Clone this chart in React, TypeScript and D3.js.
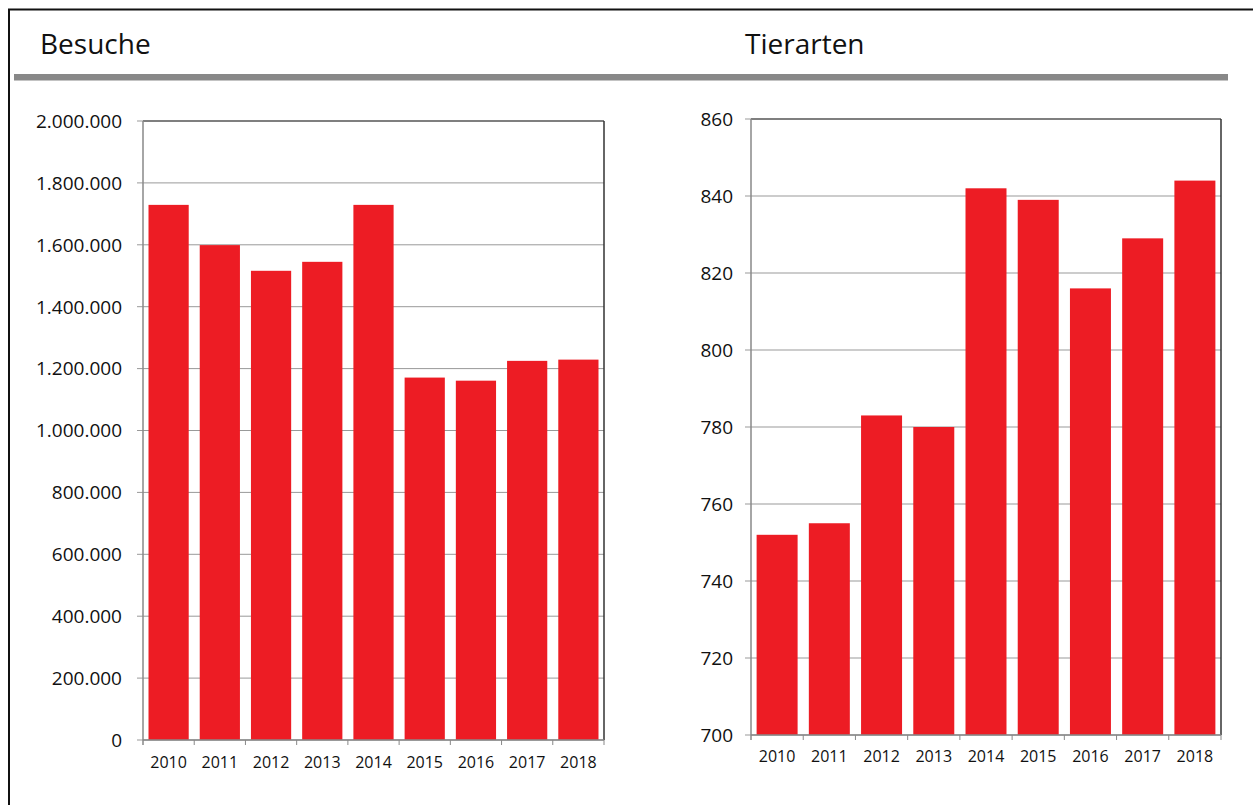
import React from "react";
import * as d3 from "d3";

const years = ["2010", "2011", "2012", "2013", "2014", "2015", "2016", "2017", "2018"];
const besuche = [1729000, 1599000, 1516000, 1545000, 1729000, 1171000, 1161000, 1225000, 1229000];
const tierarten = [752, 755, 783, 780, 842, 839, 816, 829, 844];
const besucheTicks = [0, 200000, 400000, 600000, 800000, 1000000, 1200000, 1400000, 1600000, 1800000, 2000000];
const tierTicks = [700, 720, 740, 760, 780, 800, 820, 840, 860];

const FONT = "'Open Sans', sans-serif";
const RED = "#ed1c24";

type PanelProps = {
  x0: number; x1: number; y0: number; y1: number;
  values: number[]; ticks: number[]; domain: [number, number];
  fmt: (v: number) => string; xLabelY: number; labelOff: number;
};

function Panel({ x0, x1, y0, y1, values, ticks, domain, fmt, xLabelY, labelOff }: PanelProps) {
  const x = d3.scaleBand<string>().domain(years).range([x0, x1]).paddingInner(0.215).paddingOuter(0.1075);
  const xb = d3.scaleBand<string>().domain(years).range([x0, x1]);
  const y = d3.scaleLinear().domain(domain).range([y1, y0]);
  return (
    <g>
      {ticks.map((t) => (
        <g key={t}>
          <line x1={x0 - 6} x2={x1} y1={y(t)} y2={y(t)} stroke="#999" strokeWidth={1} />
          <text x={x0 - labelOff} y={y(t)} dy="0.36em" textAnchor="end" fontFamily={FONT} fontSize={19} fill="#111">
            {fmt(t)}
          </text>
        </g>
      ))}
      {values.map((v, i) => (
        <rect key={years[i]} x={x(years[i])} width={x.bandwidth()} y={y(v)} height={y1 - y(v)} fill={RED} />
      ))}
      <line x1={x0} x2={x1} y1={y0} y2={y0} stroke="#333" strokeWidth={1.2} />
      <line x1={x1} x2={x1} y1={y0} y2={y1} stroke="#333" strokeWidth={1.5} />
      <line x1={x0} x2={x0} y1={y0} y2={y1 + 5} stroke="#888" strokeWidth={1.5} />
      <line x1={x0} x2={x1} y1={y1} y2={y1} stroke="#888" strokeWidth={1.5} />
      {years.map((yr) => (
        <line key={"t" + yr} x1={(xb(yr) as number) + xb.bandwidth()} x2={(xb(yr) as number) + xb.bandwidth()} y1={y1} y2={y1 + 5} stroke="#888" strokeWidth={1} />
      ))}
      {years.map((yr) => (
        <text key={"l" + yr} x={(xb(yr) as number) + xb.bandwidth() / 2} y={xLabelY} dy="0.36em" textAnchor="middle" fontFamily={FONT} fontSize={16} fill="#111">
          {yr}
        </text>
      ))}
    </g>
  );
}

const fmtDE = (v: number) => d3.format(",")(v).replace(/,/g, ".");

export default function App() {
  return (
    <svg width={1253} height={805} style={{ position: "absolute", left: 0, top: 0, background: "#fff" }}>
      <rect x={9} y={9.5} width={1260} height={810} fill="none" stroke="#111" strokeWidth={2} />
      <text x={40} y={54} fontFamily={FONT} fontSize={28} fill="#111">Besuche</text>
      <text x={745} y={54} fontFamily={FONT} fontSize={28} fill="#111">Tierarten</text>
      <rect x={14} y={74} width={1214} height={6.5} fill="#888" />
      <Panel x0={143} x1={604} y0={121} y1={740} values={besuche} ticks={besucheTicks} domain={[0, 2000000]} fmt={fmtDE} xLabelY={762} labelOff={21} />
      <Panel x0={751} x1={1221} y0={119} y1={735} values={tierarten} ticks={tierTicks} domain={[700, 860]} fmt={(v) => String(v)} xLabelY={756} labelOff={18} />
    </svg>
  );
}
